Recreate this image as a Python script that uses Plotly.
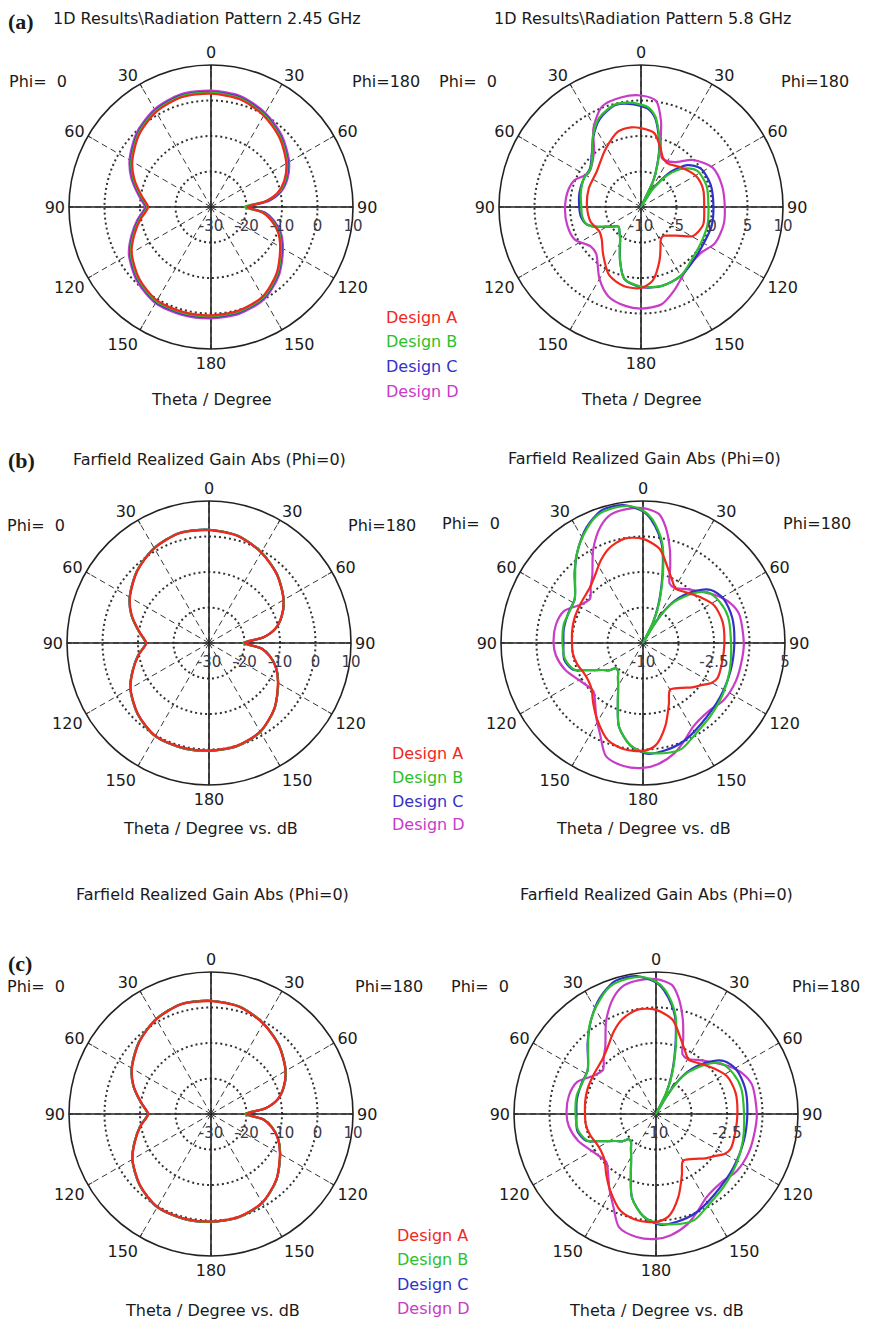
import plotly.graph_objects as go

# The page adds an 8 px body margin on every side, so the figure is sized to fit inside it.
PAGE_W, PAGE_H = 872, 1329
OFF = 8
W, H = PAGE_W - 2 * OFF, PAGE_H - 2 * OFF
FONT = "DejaVu Sans"
TXT = "#1a1a1a"
DESIGNS = ["Design A", "Design B", "Design C", "Design D"]
COLORS = ["#f0281e", "#2dbf2d", "#3232c8", "#c83cc8"]

ANG_VALS = [0, 30, 60, 90, 120, 150, 180, 210, 240, 270, 300, 330]
ANG_TEXT = ["0", "30", "60", "90", "120", "150", "180", "150", "120", "90", "60", "30"]

# ---------- (a) left : 2.45 GHz ----------
THETA_L = [0, 15, 30, 45, 60, 70, 78, 84, 90, 96, 102, 110, 120, 135, 150, 165, 180,
           195, 210, 225, 240, 250, 260, 266, 270, 274, 280, 290, 300, 315, 330, 345, 360]
A_aL = [1.9, 1.4, -0.3, -2.6, -5.5, -8.0, -10.8, -14.5, -19.8, -15.5, -12.8, -10.0, -7.5, -3.8, -0.9, 0.2, 0.5,
        0.6, 0.4, -1.4, -4.2, -7.0, -9.8, -11.6, -12.3, -11.6, -10.0, -7.0, -4.4, -1.3, 0.9, 2.0, 1.9]
B_aL = [2.2, 1.7, 0.0, -2.3, -5.2, -7.7, -10.5, -14.4, -20.6, -15.3, -12.5, -9.7, -7.2, -3.5, -0.6, 0.5, 0.8,
        0.9, 0.7, -1.1, -3.9, -6.7, -9.5, -11.3, -12.0, -11.3, -9.7, -6.7, -4.1, -1.0, 1.2, 2.3, 2.2]
C_aL = [2.4, 1.9, 0.2, -2.1, -5.0, -7.5, -10.3, -14.0, -19.8, -15.0, -12.3, -9.5, -7.0, -3.3, -0.4, 0.7, 1.0,
        1.1, 0.9, -0.9, -3.7, -6.5, -9.3, -11.1, -11.8, -11.1, -9.5, -6.5, -3.9, -0.8, 1.4, 2.5, 2.4]
D_aL = [2.8, 2.3, 0.6, -1.7, -4.6, -7.1, -9.9, -13.6, -19.6, -14.6, -11.9, -9.1, -6.6, -2.9, 0.0, 1.1, 1.4,
        1.5, 1.3, -0.5, -3.3, -6.1, -8.9, -10.7, -11.4, -10.7, -9.1, -6.1, -3.5, -0.4, 1.8, 2.9, 2.8]

# ---------- (b)/(c) left ----------
A_bL = [1.8, 1.2, -0.6, -2.9, -5.8, -8.3, -11.0, -14.6, -20.0, -15.2, -12.6, -10.0, -7.6, -4.0, -1.2, 0.0, 0.3,
        0.4, 0.2, -1.7, -4.5, -7.2, -9.8, -11.6, -12.4, -11.6, -9.9, -6.8, -4.3, -1.4, 0.8, 2.0, 1.8]
B_bL = [1.9, 1.3, -0.5, -2.8, -5.7, -8.2, -10.9, -14.6, -20.4, -15.1, -12.5, -9.9, -7.5, -3.9, -1.1, 0.1, 0.4,
        0.5, 0.3, -1.6, -4.4, -7.1, -9.7, -11.5, -12.3, -11.5, -9.8, -6.7, -4.2, -1.3, 0.9, 2.1, 1.9]
C_bL = [1.9, 1.3, -0.5, -2.8, -5.7, -8.2, -10.9, -14.5, -20.0, -15.1, -12.5, -9.9, -7.5, -3.9, -1.1, 0.1, 0.4,
        0.5, 0.3, -1.6, -4.4, -7.1, -9.7, -11.5, -12.3, -11.5, -9.8, -6.7, -4.2, -1.3, 0.9, 2.1, 1.9]
D_bL = [1.9, 1.3, -0.5, -2.8, -5.7, -8.2, -10.9, -14.5, -20.0, -15.1, -12.5, -9.9, -7.5, -3.9, -1.1, 0.1, 0.4,
        0.5, 0.3, -1.6, -4.4, -7.1, -9.7, -11.5, -12.3, -11.5, -9.8, -6.7, -4.2, -1.3, 0.9, 2.1, 1.9]

# ---------- (a) right : 5.8 GHz ----------
TH_A_aR = [0, 10, 18, 24, 32, 45, 61, 74, 90, 106, 119, 126, 136, 142, 148, 155, 161, 171, 180,
           192, 205, 219, 230, 239, 254, 270, 289, 309, 328, 343, 353, 360]
A_aR = [1.1, 0.6, -1.2, -2.4, -2.8, -2.1, -1.1, -0.9, -1.1, -0.9, -1.6, -3.1, -4.4, -4.85, -4.7, -3.5, -2.0, 0.5, 1.4,
        1.4, 0.6, -1.5, -2.8, -3.2, -2.6, -2.4, -2.2, -2.0, -0.5, 1.1, 1.3, 1.1]
TH_BC_aR = [0, 4, 9, 13, 17, 21, 25, 29, 32, 35, 40, 48, 57, 72, 90, 105, 118, 134, 150, 165, 180,
            193, 201, 208, 213, 220, 229, 235, 241, 247, 253, 262, 270, 283, 297, 307, 316, 326, 335, 346, 356, 360]
B_aR = [4.4, 4.1, 2.9, 1.0, -1.0, -3.5, -5.8, -10.0, -7.4, -6.3, -4.1, -1.9, -0.6, -0.3, -0.5, -0.3, -0.2, 0.2, 1.2, 1.5, 1.2,
        0.4, -1.8, -3.6, -4.6, -5.3, -5.8, -5.2, -4.3, -2.9, -1.9, -1.6, -1.6, -1.3, -1.0, -1.1, -0.1, 2.1, 3.9, 4.9, 4.7, 4.4]
C_aR = [4.2, 3.9, 2.7, 0.8, -1.2, -3.6, -5.9, -10.0, -7.3, -6.0, -3.6, -1.2, 0.0, 0.3, 0.2, 0.3, 0.2, 0.5, 1.2, 1.5, 1.3,
        0.4, -1.8, -3.7, -4.6, -5.3, -5.8, -5.2, -4.3, -2.9, -1.9, -1.4, -1.3, -1.1, -1.0, -1.0, 0.0, 2.0, 3.7, 4.8, 4.5, 4.2]
TH_D_aR = [0, 8, 13, 17, 23, 28, 37, 48, 61, 75, 90, 102, 116, 128, 143, 158, 168, 180,
           189, 200, 210, 224, 232, 244, 256, 270, 284, 292, 303, 319, 329, 339, 350, 360]
D_aR = [5.7, 5.1, 2.5, -0.5, -2.5, -2.6, -2.1, -0.1, 1.5, 1.8, 1.8, 1.9, 1.6, 0.6, 0.8, 2.6, 4.0, 4.3,
        4.1, 3.4, 1.7, -0.9, -1.0, 0.4, 0.7, 0.7, 0.5, 0.1, -1.2, 0.1, 3.0, 5.2, 5.7, 5.7]

# ---------- (b)/(c) right : realized gain ----------
TH_A_bR = [0, 10, 18, 25, 31, 38, 45, 52, 62, 75, 90, 104, 115, 120, 126, 132, 140, 150, 157, 165, 173, 180,
           190, 200, 211, 220, 228, 236, 243, 252, 262, 270, 280, 290, 303, 316, 325, 333, 340, 350, 360]
A_bR = [1.0, 0.1, -1.6, -2.7, -3.3, -3.1, -2.7, -2.2, -1.5, -1.3, -1.4, -1.4, -1.3, -1.6, -2.4, -3.0, -3.8, -4.3, -3.0, -0.9, 0.9, 1.4,
        1.4, 0.9, -0.6, -1.8, -2.7, -3.0, -3.0, -2.7, -2.5, -2.5, -2.4, -2.3, -2.2, -1.9, -1.2, -0.2, 0.6, 1.2, 1.0]
TH_B_bR = [0, 4, 8, 11, 14, 18, 22, 26, 28, 31, 33, 37, 45, 52, 62, 73, 90, 107, 122, 137, 150, 160, 167, 178,
           187, 196, 203, 207, 211, 216, 222, 227, 231, 236, 241, 245, 249, 258, 270, 283, 292, 303, 313, 322, 331, 340, 348, 355, 360]
B_bR = [4.0, 3.2, 1.9, 0.7, -1.1, -3.5, -5.5, -7.5, -10.0, -8.0, -6.3, -4.6, -2.6, -1.3, -0.8, -0.6, -0.7, -0.4, 0.0, 0.5, 1.1, 1.9, 1.9, 1.6,
        0.9, -0.8, -3.2, -4.2, -4.9, -5.5, -6.05, -6.1, -5.4, -4.9, -4.1, -3.2, -2.2, -1.6, -1.5, -1.4, -1.55, -1.4, -0.2, 1.5, 3.0, 4.3, 4.6, 4.5, 4.0]
TH_C_bR = [0, 4, 8, 11, 14, 18, 22, 26, 28, 31, 33, 37, 44, 52, 61, 74, 90, 107, 125, 144, 158, 169, 178,
           187, 196, 203, 207, 211, 216, 222, 227, 231, 236, 241, 245, 249, 258, 270, 280, 292, 303, 316, 325, 334, 343, 352, 360]
C_bR = [3.9, 3.0, 1.7, 0.5, -1.3, -3.7, -5.7, -7.6, -10.0, -8.0, -6.2, -4.4, -2.5, -0.9, -0.3, -0.2, -0.35, -0.3, -0.05, 0.5, 1.25, 1.6, 1.7,
        0.9, -0.8, -3.2, -4.2, -4.9, -5.5, -6.05, -6.1, -5.4, -4.9, -4.1, -3.2, -2.1, -1.5, -1.6, -1.5, -1.5, -1.4, 0.4, 2.0, 3.6, 4.7, 4.7, 3.9]
TH_D_bR = [0, 7, 11, 16, 20, 24, 30, 35, 43, 56, 65, 73, 90, 99, 112, 125, 136, 149, 157, 164, 173, 180,
           189, 198, 205, 212, 218, 226, 238, 251, 262, 270, 282, 292, 302, 310, 317, 323, 332, 340, 346, 353, 360]
D_bR = [4.25, 3.75, 2.5, 0.3, -1.6, -3.1, -3.3, -3.0, -2.35, -0.9, 0.1, 0.6, 0.65, 0.6, 0.6, 0.45, 0.0, 0.3, 1.2, 2.1, 2.9, 3.2,
        3.15, 2.6, 0.7, -0.7, -1.8, -2.7, -2.3, -1.3, -0.7, -0.55, -0.6, -1.0, -2.3, -2.7, -1.9, -1.1, 1.2, 3.1, 4.0, 4.25, 4.25]

# radial axis settings
R_LEFT = [-30, 10]
RT_LEFT = [-30, -20, -10, 0, 10]
RT_LEFT_TXT = ["-30", "-20", "-10", "0", "10"]
R_A_RIGHT = [-10, 10]
RT_A_RIGHT = [-10, -5, 0, 5, 10]
RT_A_RIGHT_TXT = ["-10", "-5", "0", "5", "10"]
R_BC_RIGHT = [-10, 5]
RT_BC_RIGHT = [-10, -6.25, -2.5, 1.25, 5]
RT_BC_RIGHT_TXT = ["-10", "", "-2.5", "", "5"]

RAD = 142
panels = [
    dict(cx=211, cy=207, rng=R_LEFT, tv=RT_LEFT, tt=RT_LEFT_TXT,
         series=[(THETA_L, A_aL), (THETA_L, B_aL), (THETA_L, C_aL), (THETA_L, D_aL)]),
    dict(cx=641, cy=207, rng=R_A_RIGHT, tv=RT_A_RIGHT, tt=RT_A_RIGHT_TXT,
         series=[(TH_A_aR, A_aR), (TH_BC_aR, B_aR), (TH_BC_aR, C_aR), (TH_D_aR, D_aR)]),
    dict(cx=209, cy=643, rng=R_LEFT, tv=RT_LEFT, tt=RT_LEFT_TXT,
         series=[(THETA_L, A_bL), (THETA_L, B_bL), (THETA_L, C_bL), (THETA_L, D_bL)]),
    dict(cx=643, cy=643, rng=R_BC_RIGHT, tv=RT_BC_RIGHT, tt=RT_BC_RIGHT_TXT,
         series=[(TH_A_bR, A_bR), (TH_B_bR, B_bR), (TH_C_bR, C_bR), (TH_D_bR, D_bR)]),
    dict(cx=211, cy=1114, rng=R_LEFT, tv=RT_LEFT, tt=RT_LEFT_TXT,
         series=[(THETA_L, A_bL), (THETA_L, B_bL), (THETA_L, C_bL), (THETA_L, D_bL)]),
    dict(cx=656, cy=1114, rng=R_BC_RIGHT, tv=RT_BC_RIGHT, tt=RT_BC_RIGHT_TXT,
         series=[(TH_A_bR, A_bR), (TH_B_bR, B_bR), (TH_C_bR, C_bR), (TH_D_bR, D_bR)]),
]


def fx(x):
    return (x - OFF) / W


def fy(y):
    return 1 - (y - OFF) / H


fig = go.Figure()
layout_polars = {}
for i, p in enumerate(panels):
    name = "polar" if i == 0 else f"polar{i + 1}"
    cx, cy = p["cx"], p["cy"]
    layout_polars[name] = dict(
        domain=dict(x=[fx(cx - RAD), fx(cx + RAD)], y=[fy(cy + RAD), fy(cy - RAD)]),
        bgcolor="white",
        angularaxis=dict(rotation=90, direction="clockwise", tickmode="array",
                         tickvals=ANG_VALS, ticktext=ANG_TEXT,
                         showline=True, linecolor="#222", linewidth=1.6,
                         showgrid=True, gridcolor="#3a3a3a", griddash="6px,4px", gridwidth=1.2,
                         ticks="inside", ticklen=4, tickcolor="#222",
                         tickfont=dict(family=FONT, size=16, color=TXT)),
        radialaxis=dict(range=p["rng"], tickmode="array", tickvals=p["tv"], ticktext=p["tt"],
                        angle=0, side="clockwise", tickangle=0, showline=False,
                        ticks="outside", ticklen=5, tickcolor="rgba(0,0,0,0)",
                        showgrid=True, gridcolor="#333", griddash="2px,3px", gridwidth=1.8,
                        tickfont=dict(family=FONT, size=15, color="#3a3a4a")),
    )
    r0, r1 = p["rng"]
    # solid cross-hair axes
    fig.add_trace(go.Scatterpolar(r=[r1, r0, r1], theta=[0, 0, 180], mode="lines", subplot=name,
                                  line=dict(color="#222", width=1.6), hoverinfo="skip", showlegend=False))
    fig.add_trace(go.Scatterpolar(r=[r1, r0, r1], theta=[90, 90, 270], mode="lines", subplot=name,
                                  line=dict(color="#222", width=1.6), hoverinfo="skip", showlegend=False))
    for k in [3, 2, 1, 0]:
        th, rv = p["series"][k]
        fig.add_trace(go.Scatterpolar(r=rv, theta=th, mode="lines", subplot=name, name=DESIGNS[k],
                                      line=dict(color=COLORS[k], width=2.2, shape="spline", smoothing=0.8),
                                      showlegend=False))

anns = []


def ann(x, y, text, size=16, color=TXT, xanchor="center", family=FONT):
    anns.append(dict(x=fx(x), y=fy(y), xref="paper", yref="paper", text=text, showarrow=False,
                     xanchor=xanchor, yanchor="middle", font=dict(family=family, size=size, color=color)))


NB = "\u00a0"
PHI0 = "Phi=" + NB + NB + "0"

# Row (a)
ann(6, 22, "<b>(a)</b>", size=22, xanchor="left", family="Liberation Serif")
ann(51, 19, "1D Results\\Radiation Pattern 2.45 GHz", xanchor="left")
ann(642, 19, "1D Results\\Radiation Pattern 5.8 GHz")
ann(7, 81, PHI0, xanchor="left")
ann(422, 81, "Phi=180", xanchor="right")
ann(437, 81, PHI0, xanchor="left")
ann(851, 81, "Phi=180", xanchor="right")
ann(211, 399, "Theta / Degree")
ann(641, 399, "Theta / Degree")
for k, y in enumerate([317, 342, 366, 391]):
    ann(384, y, DESIGNS[k], color=COLORS[k], xanchor="left")

# Row (b)
ann(6, 461, "<b>(b)</b>", size=22, xanchor="left", family="Liberation Serif")
ann(209, 460, "Farfield Realized Gain Abs (Phi=0)")
ann(644, 458, "Farfield Realized Gain Abs (Phi=0)")
ann(5, 525, PHI0, xanchor="left")
ann(418, 525, "Phi=180", xanchor="right")
ann(440, 523, PHI0, xanchor="left")
ann(853, 523, "Phi=180", xanchor="right")
ann(210, 828, "Theta / Degree vs. dB")
ann(643, 828, "Theta / Degree vs. dB")
for k, y in enumerate([753, 777, 801, 825]):
    ann(390, y, DESIGNS[k], color=COLORS[k], xanchor="left")

# Row (c)
ann(212, 894, "Farfield Realized Gain Abs (Phi=0)")
ann(656, 894, "Farfield Realized Gain Abs (Phi=0)")
ann(6, 963, "<b>(c)</b>", size=22, xanchor="left", family="Liberation Serif")
ann(5, 986, PHI0, xanchor="left")
ann(425, 986, "Phi=180", xanchor="right")
ann(449, 986, PHI0, xanchor="left")
ann(862, 986, "Phi=180", xanchor="right")
ann(212, 1310, "Theta / Degree vs. dB")
ann(656, 1310, "Theta / Degree vs. dB")
for k, y in enumerate([1235, 1259, 1284, 1308]):
    ann(395, y, DESIGNS[k], color=COLORS[k], xanchor="left")

fig.update_layout(width=W, height=H, margin=dict(l=0, r=0, t=0, b=0),
                  paper_bgcolor="white", plot_bgcolor="white", showlegend=False,
                  font=dict(family=FONT, size=16, color=TXT), annotations=anns, **layout_polars)

fig.write_html("out.html")
